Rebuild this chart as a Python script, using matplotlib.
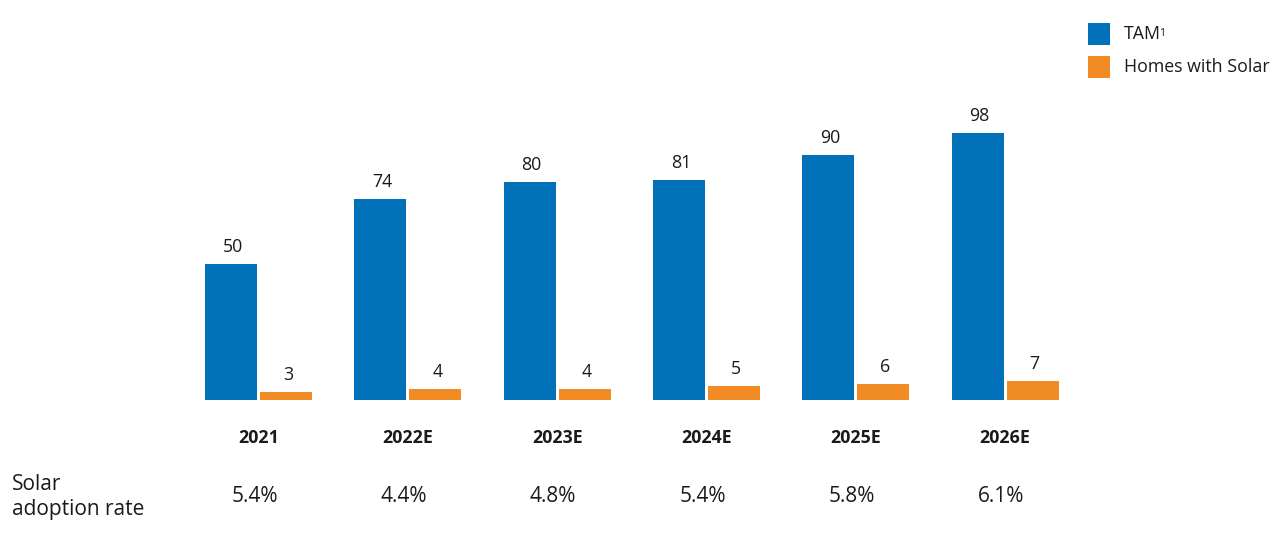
import matplotlib
matplotlib.use("Agg")
import matplotlib.pyplot as plt
from matplotlib.patches import Rectangle
import numpy as np

years = ["2021", "2022E", "2023E", "2024E", "2025E", "2026E"]
tam = [50, 74, 80, 81, 90, 98]
homes_solar = [3, 4, 4, 5, 6, 7]
adoption = ["5.4%", "4.4%", "4.8%", "5.4%", "5.8%", "6.1%"]

BLUE = "#0070B8"
ORANGE = "#F08C23"
TXT = "#1a1a1a"

plt.rcParams['font.family'] = ['Open Sans', 'DejaVu Sans']

W, H = 1278, 547
fig = plt.figure(figsize=(W / 100, H / 100), dpi=100)
ax = fig.add_axes([0, 0, 1, 1])

# pixel mapping: group center px = 258.5 + 149.3*i ; baseline py = 400 ; 2.72 px/unit
xs_px = 149.3
x0_px = 258.5
base_py = 400
ppu = 2.72
ax.set_xlim((0 - x0_px) / xs_px, (W - x0_px) / xs_px)
ax.set_ylim((base_py - H) / ppu, base_py / ppu)
ax.axis("off")

def py2d(py):
    return (base_py - py) / ppu

def px2d(px):
    return (px - x0_px) / xs_px

x = np.arange(len(years))
bw = 52 / xs_px
off = 27.5 / xs_px
ax.bar(x - off, tam, width=bw, color=BLUE, zorder=2)
ax.bar(x + off, homes_solar, width=bw, color=ORANGE, zorder=2)

for i in range(len(years)):
    ax.text(x[i] - off + 2 / xs_px, tam[i] + 8 / ppu, str(tam[i]), ha="center",
            va="bottom", fontsize=12.8, color=TXT)
    ax.text(x[i] + off + 2 / xs_px, homes_solar[i] + 8 / ppu, str(homes_solar[i]),
            ha="center", va="bottom", fontsize=12.8, color=TXT)
    ax.text(x[i], py2d(438), years[i], ha="center", va="center", fontsize=12.8,
            fontweight="bold", color=TXT)
    ax.text(x[i] - 4 / xs_px, py2d(496), adoption[i], ha="center", va="center",
            fontsize=15, color=TXT)

ax.text(px2d(12), py2d(497), "Solar\nadoption rate", ha="left", va="center",
        fontsize=15, color=TXT, linespacing=1.2)

# legend
for (label, col, ytop) in [("TAM", BLUE, 23), ("Homes with Solar", ORANGE, 56)]:
    ax.add_patch(Rectangle((px2d(1088), py2d(ytop + 22)), 22 / xs_px, 22 / ppu,
                           facecolor=col, edgecolor="none", clip_on=False))
    t = ax.text(px2d(1124), py2d(ytop + 11), label, ha="left", va="center",
                fontsize=12.8, color=TXT)
    if label == "TAM":
        ax.annotate("1", xy=(1, 1), xycoords=t, xytext=(-1.5, -2),
                    textcoords="offset points", ha="left", va="top",
                    fontsize=7.5, color=TXT)

fig.savefig("out.png", dpi=100)
